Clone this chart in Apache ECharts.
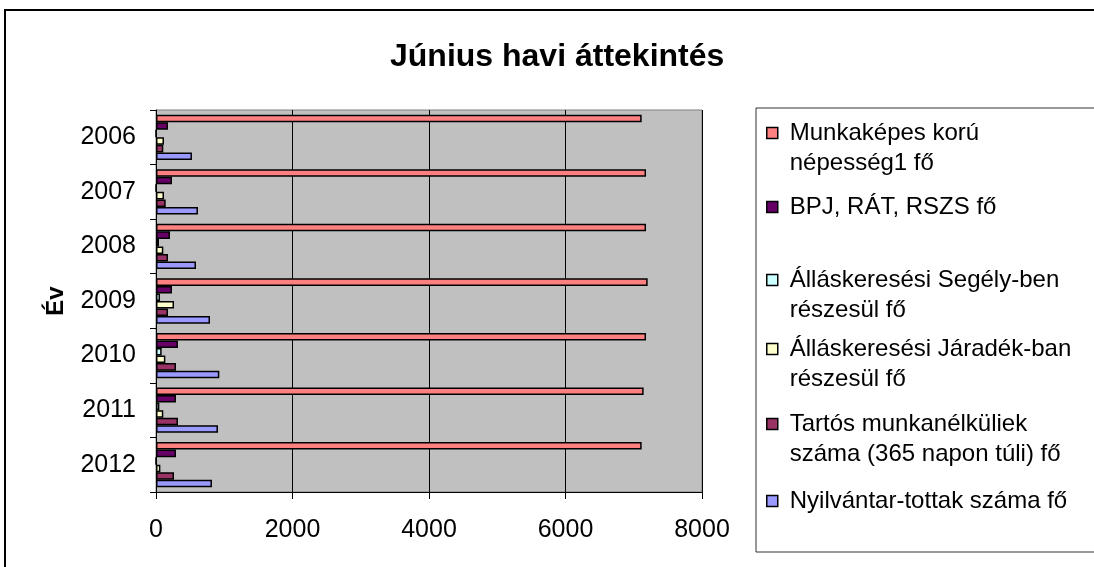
<!DOCTYPE html>
<html>
<head>
<meta charset="utf-8">
<script src="https://cdn.jsdelivr.net/npm/echarts@6/dist/echarts.min.js"></script>
<style>
  html, body { margin: 0; padding: 0; background: #fff; }
  #chart { width: 1094px; height: 567px; }
</style>
</head>
<body>
<div id="chart"></div>
<script>
// adatok
var years = ['2006', '2007', '2008', '2009', '2010', '2011', '2012'];
var seriesNames = [
  'Munkaképes korú\nnépesség1 fő',
  'BPJ, RÁT, RSZS fő',
  'Álláskeresési Segély-ben\nrészesül fő',
  'Álláskeresési Járadék-ban\nrészesül fő',
  'Tartós munkanélküliek\nszáma (365 napon túli) fő',
  'Nyilvántar-tottak száma fő'
];
var munkakepes = [7116, 7180, 7180, 7204, 7180, 7145, 7116];
var bpj = [176, 234, 205, 234, 322, 293, 293];
var segely = [0, 0, 44, 59, 83, 49, 0];
var jaradek = [117, 117, 107, 264, 137, 107, 64];
var tartos = [107, 142, 176, 176, 293, 322, 264];
var nyilvantartott = [527, 615, 586, 791, 928, 908, 820];
var xTicks = [0, 2000, 4000, 6000, 8000];

var colors = ['#FF8080', '#660066', '#CCFFFF', '#FFFFCC', '#993366', '#9999FF'];
var values = [munkakepes, bpj, segely, jaradek, tartos, nyilvantartott];

var font = 'Liberation Sans, Arial, sans-serif';
var myChart = echarts.init(document.getElementById('chart'));

// jelmagyarázat: minden tétel külön, hogy a sorok helye egyezzen
var legendTops = [88, 192, 235, 304, 379, 486];
var legends = seriesNames.map(function (name, i) {
  var multi = name.indexOf('\n') >= 0;
  return {
    data: [name],
    left: 766,
    top: legendTops[i],
    padding: 0,
    orient: 'vertical',
    icon: 'rect',
    itemWidth: 11,
    itemHeight: 11,
    itemStyle: { borderColor: '#000', borderWidth: 1.5 },
    selectedMode: false,
    // üres első sor: így a négyzet az első sorral van egy magasságban
    formatter: function (n) { return multi ? ' \n' + n : n; },
    textStyle: {
      fontFamily: font,
      fontSize: 24,
      color: '#000',
      lineHeight: 30,
      padding: [0, 0, 0, 7]
    }
  };
});

var option = {
  animation: false,
  color: colors,
  title: {
    text: 'Június havi áttekintés',
    left: 390,
    top: 41,
    padding: 0,
    textStyle: { fontFamily: font, fontSize: 32, fontWeight: 'bold', color: '#000' }
  },
  legend: legends,
  grid: {
    left: 156,
    right: 392,
    top: 110,
    bottom: 75,
    show: true,
    backgroundColor: '#C0C0C0',
    borderColor: '#808080',
    borderWidth: 1
  },
  xAxis: {
    type: 'value',
    min: xTicks[0],
    max: xTicks[xTicks.length - 1],
    interval: 2000,
    axisLine: { show: true, lineStyle: { color: '#000', width: 1 } },
    axisTick: { show: true, length: 7, lineStyle: { color: '#000' } },
    axisLabel: {
      fontFamily: font, fontSize: 25, color: '#000', margin: 26,
      formatter: function (v) { return String(v); }
    },
    splitLine: { show: true, lineStyle: { color: '#000', width: 1 } }
  },
  yAxis: {
    type: 'category',
    data: years,
    inverse: true,
    name: 'Év',
    nameLocation: 'middle',
    nameRotate: 90,
    nameGap: 88,
    nameTextStyle: { fontFamily: font, fontSize: 24, fontWeight: 'bold', color: '#000' },
    axisLine: { show: true, lineStyle: { color: '#000', width: 1 } },
    axisTick: { show: true, length: 6, lineStyle: { color: '#000' } },
    axisLabel: { fontFamily: font, fontSize: 25, color: '#000', margin: 20 }
  },
  series: values.map(function (d, i) {
    return {
      name: seriesNames[i],
      type: 'bar',
      data: d,
      barGap: '0%',
      barCategoryGap: '17%',
      itemStyle: { borderColor: '#000', borderWidth: 1.5 }
    };
  }),
  graphic: [
    // külső keret
    { type: 'rect', shape: { x: 5, y: 10, width: 2000, height: 1000 },
      style: { fill: 'transparent', stroke: '#000', lineWidth: 2 }, silent: true },
    // jelmagyarázat kerete
    { type: 'rect', shape: { x: 756, y: 108, width: 1000, height: 444 },
      style: { fill: 'transparent', stroke: '#333', lineWidth: 1 }, silent: true }
  ]
};
myChart.setOption(option);
</script>
</body>
</html>
